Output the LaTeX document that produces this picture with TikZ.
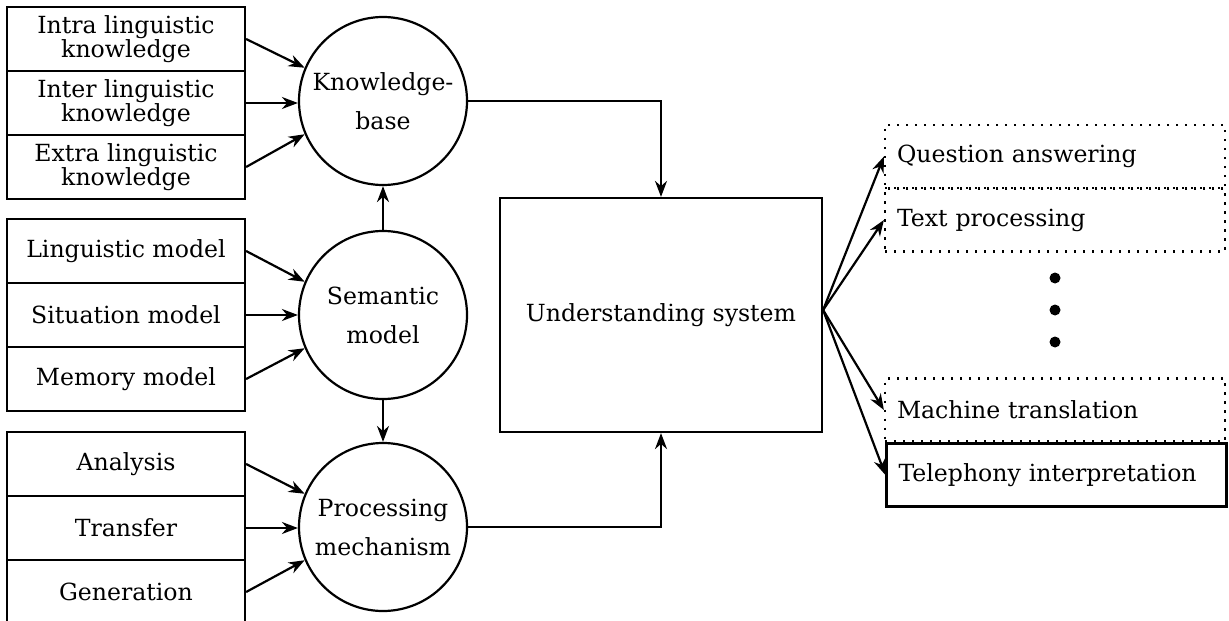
\documentclass[tikz,border=0pt]{standalone}
\usepackage{fontspec}
\setmainfont{DejaVu Serif}
\usetikzlibrary{arrows.meta}

\begin{document}
\begin{tikzpicture}[x=0.5pt,y=-0.5pt,
  line width=1.1pt,
  txt/.style={font=\fontsize{11.8}{12.2}\selectfont},
  leftbox/.style={draw, txt, minimum width=119pt, minimum height=32pt,
    inner sep=0pt, align=center},
  hub/.style={draw, circle, minimum size=84pt, inner sep=0pt, align=center,
    font=\fontsize{11.8}{19.5}\selectfont},
  appbox/.style={txt, minimum width=170pt, minimum height=31.5pt,
    text width=158pt, inner xsep=6pt, inner ysep=0pt, align=left},
  dotbox/.style={appbox, draw, dash pattern=on 1.1pt off 3.4pt},
  solidbox/.style={appbox, draw},
  arr/.style={-{Stealth[length=8pt,width=6pt]}},
  bullet/.style={circle, fill, inner sep=0pt, minimum size=5.5pt},
]
\useasboundingbox (0,0) rectangle (1229,620);

% knowledge sources
\node[leftbox] (intra) at (126,39)  {Intra linguistic\\knowledge};
\node[leftbox] (inter) at (126,103) {Inter linguistic\\knowledge};
\node[leftbox] (extra) at (126,167) {Extra linguistic\\knowledge};

% models
\node[leftbox] (ling) at (126,251) {Linguistic model};
\node[leftbox] (situ) at (126,315) {Situation model};
\node[leftbox] (memo) at (126,379) {Memory model};

% processing steps
\node[leftbox] (ana) at (126,464) {Analysis};
\node[leftbox] (tra) at (126,528) {Transfer};
\node[leftbox] (gen) at (126,592) {Generation};

% hubs
\node[hub] (kb) at (383,101) {Knowledge-\\base};
\node[hub] (sm) at (383,315) {Semantic\\model};
\node[hub] (pm) at (383,527) {Processing\\mechanism};

% central system
\node[draw, txt, minimum width=161pt, minimum height=117pt, inner sep=0pt]
  (us) at (661,315) {Understanding system};
\coordinate (fan) at ([yshift=2.5pt]us.east);

% applications
\node[dotbox] (qa) at (1055,156.5) {Question answering};
\node[dotbox] (tp) at (1055,220)   {Text processing};
\node[dotbox] (mt) at (1055,410)   {Machine translation};
\node[solidbox] (tel) at (1056.5,475) {Telephony interpretation};

\node[bullet] (d1) at (1055,278) {};
\node[bullet] (d2) at (1055,310) {};
\node[bullet] (d3) at (1055,342) {};

% inputs into the hubs
\draw[arr] (intra.east) -- (kb.157);
\draw[arr] (inter.east) -- (inter.east -| kb.west);
\draw[arr] (extra.east) -- (kb.203);
\draw[arr] (ling.east) -- (sm.157);
\draw[arr] (situ.east) -- (sm.west);
\draw[arr] (memo.east) -- (sm.203);
\draw[arr] (ana.east) -- (pm.157);
\draw[arr] (tra.east) -- (tra.east -| pm.west);
\draw[arr] (gen.east) -- (pm.203);

% between hubs
\draw[arr] (sm.north) -- (kb.south);
\draw[arr] (sm.south) -- (pm.north);

% hubs into the system
\draw[arr] (kb.east) -| (us.north);
\draw[arr] (pm.east) -| (us.south);

% system out to applications
\draw[arr] (fan) -- (qa.west);
\draw[arr] (fan) -- (tp.west);
\draw[arr] (fan) -- (mt.west);
\draw[arr] (fan) -- (tel.west);
\end{tikzpicture}
\end{document}
